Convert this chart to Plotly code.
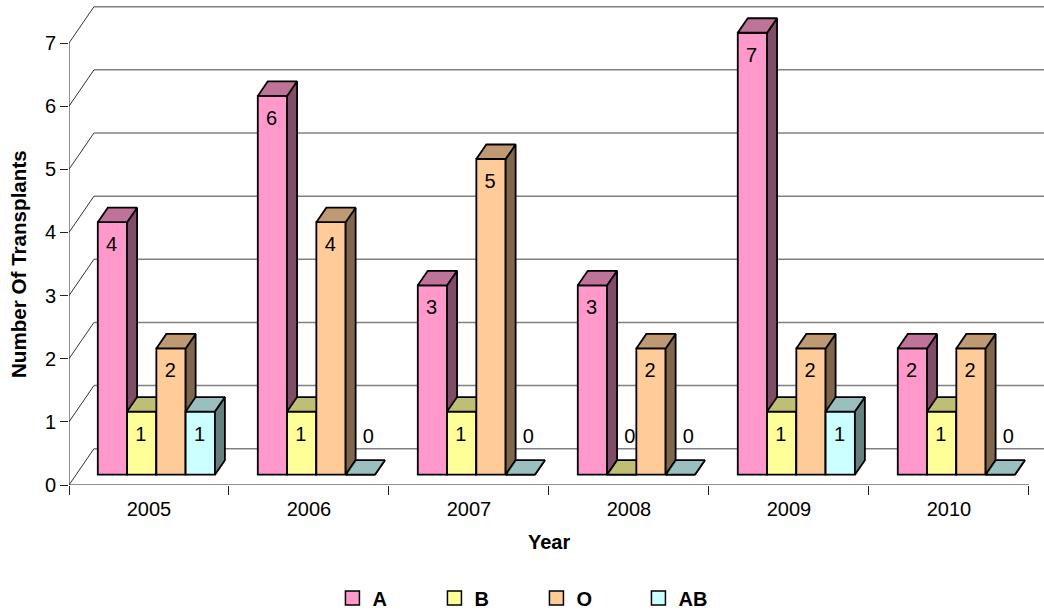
import plotly.graph_objects as go

years = ["2005", "2006", "2007", "2008", "2009", "2010"]
series_names = ["A", "B", "O", "AB"]
series_values = {
    "A": [4, 6, 3, 3, 7, 2],
    "B": [1, 1, 1, 0, 1, 1],
    "O": [2, 4, 5, 2, 2, 2],
    "AB": [1, 0, 0, 0, 1, 0],
}
front_colors = ["#FF99CC", "#FFFF99", "#FFCC99", "#CCFFFF"]
top_colors = ["#BF7399", "#BFBF73", "#BF9973", "#99BFBF"]
side_colors = ["#804D66", "#808066", "#80664D", "#668080"]
y_ticks = [0, 1, 2, 3, 4, 5, 6, 7]

# Oblique-projection constants in axis units
X_MAX, Y_MAX = 6.094, 7.65
WALL_DX, WALL_DY = 0.156, 0.575
LIFT = 0.163
BAR_W = 0.183
BAR_START = 0.18
DEPTH_DX, DEPTH_DY = 0.0625, 0.23
FONT = "Liberation Sans, Arial, sans-serif"
OUT = "#000000"
AXIS = "#222222"
EDGE = 1.8

fig = go.Figure()

# walls and axis lines
grid_x, grid_y, diag_x, diag_y = [], [], [], []
for t in y_ticks:
    grid_x += [WALL_DX, X_MAX, None]
    grid_y += [t + WALL_DY, t + WALL_DY, None]
    diag_x += [0, WALL_DX, None]
    diag_y += [t, t + WALL_DY, None]
fig.add_trace(go.Scatter(x=grid_x, y=grid_y, mode="lines", showlegend=False,
                         line=dict(color="#808080", width=1.5), hoverinfo="skip"))
fig.add_trace(go.Scatter(x=diag_x, y=diag_y, mode="lines", showlegend=False,
                         line=dict(color="#333333", width=1), hoverinfo="skip"))
fig.add_trace(go.Scatter(x=[0, 0, len(years)], y=[y_ticks[-1], 0, 0], mode="lines", showlegend=False,
                         line=dict(color=AXIS, width=1), hoverinfo="skip"))

for k, name in enumerate(series_names):
    suffix = str(k + 2)
    xa, ya = "x" + suffix, "y" + suffix
    vals = series_values[name]
    lefts = [g + BAR_START + k * BAR_W for g in range(len(years))]
    fig.add_trace(go.Bar(
        x=[l + BAR_W / 2 for l in lefts], y=vals, base=[LIFT] * len(vals), width=BAR_W,
        name=name, xaxis=xa, yaxis=ya, showlegend=False,
        marker=dict(color=front_colors[k], line=dict(color=OUT, width=EDGE)),
    ))
    for l, v in zip(lefts, vals):
        r = l + BAR_W
        top = v + LIFT
        fig.add_trace(go.Scatter(
            x=[r, r + DEPTH_DX, r + DEPTH_DX, r, r],
            y=[LIFT, LIFT + DEPTH_DY, top + DEPTH_DY, top, LIFT],
            mode="lines", fill="toself", fillcolor=side_colors[k],
            line=dict(color=OUT, width=EDGE), showlegend=False, xaxis=xa, yaxis=ya, hoverinfo="skip"))
        fig.add_trace(go.Scatter(
            x=[l, r, r + DEPTH_DX, l + DEPTH_DX, l],
            y=[top, top, top + DEPTH_DY, top + DEPTH_DY, top],
            mode="lines", fill="toself", fillcolor=top_colors[k],
            line=dict(color=OUT, width=EDGE), showlegend=False, xaxis=xa, yaxis=ya, hoverinfo="skip"))

# legend entries
for k, name in enumerate(series_names):
    fig.add_trace(go.Scatter(x=[None], y=[None], mode="markers", name=name,
                             marker=dict(symbol="square", size=14, color=front_colors[k],
                                         line=dict(color=OUT, width=1.5))))

# value labels
lab_x, lab_y, lab_t = [], [], []
for k, name in enumerate(series_names):
    for g, v in enumerate(series_values[name]):
        c = g + BAR_START + (k + 0.5) * BAR_W
        if v == 0:
            lab_x.append(c + 0.05)
            lab_y.append(LIFT + 0.58)
        else:
            lab_x.append(c - 0.005)
            lab_y.append(v + LIFT - 0.38)
        lab_t.append(str(v))
fig.add_trace(go.Scatter(x=lab_x, y=lab_y, text=lab_t, mode="text", showlegend=False,
                         textposition="middle center", textfont=dict(family=FONT, size=20, color="#000000"),
                         xaxis="x5", yaxis="y5", hoverinfo="skip"))

fig.update_layout(
    width=1044, height=616,
    margin=dict(l=69, r=0, t=2, b=131, autoexpand=False),
    paper_bgcolor="white", plot_bgcolor="white",
    barmode="overlay",
    font=dict(family=FONT, color="#000000", size=20),
    xaxis=dict(
        range=[0, X_MAX], showgrid=False, zeroline=False, showline=False, automargin=False,
        tickmode="array", tickvals=[g + 0.5 for g in range(len(years))], ticktext=years,
        ticks="", ticklabelstandoff=10, tickfont=dict(size=20, family=FONT),
        minor=dict(tickmode="array", tickvals=list(range(len(years) + 1)), ticks="outside",
                   ticklen=9, tickcolor=AXIS, tickwidth=1, showgrid=False),
    ),
    yaxis=dict(
        range=[0, Y_MAX], showgrid=False, zeroline=False, showline=False, automargin=False,
        tickmode="array", tickvals=y_ticks, ticks="outside", ticklen=8, tickcolor=AXIS,
        tickfont=dict(size=20, family=FONT),
    ),
    legend=dict(orientation="h", x=0.2702, y=-0.234, xanchor="left", yanchor="middle",
                entrywidth=57, entrywidthmode="pixels", traceorder="normal",
                font=dict(size=20, family=FONT, weight="bold"), itemclick=False, itemdoubleclick=False),
    annotations=[
        dict(text="<b>Year</b>", xref="paper", yref="paper", x=(549 - 69) / 975, y=(485 - 542) / 483,
             xanchor="center", yanchor="middle", showarrow=False, font=dict(size=20, family=FONT)),
        dict(text="<b>Number Of Transplants</b>", xref="paper", yref="paper", x=(18 - 69) / 975,
             y=(485 - 264) / 483, xanchor="center", yanchor="middle", textangle=-90, showarrow=False,
             font=dict(size=20.6, family=FONT)),
    ],
)
for s in range(2, 6):
    fig.update_layout({f"xaxis{s}": dict(range=[0, X_MAX], visible=False, overlaying="x"),
                       f"yaxis{s}": dict(range=[0, Y_MAX], visible=False, overlaying="y")})

fig.write_html("out.html", config={"displayModeBar": False},
               post_script="document.body.style.margin='0';document.documentElement.style.overflow='hidden';")
